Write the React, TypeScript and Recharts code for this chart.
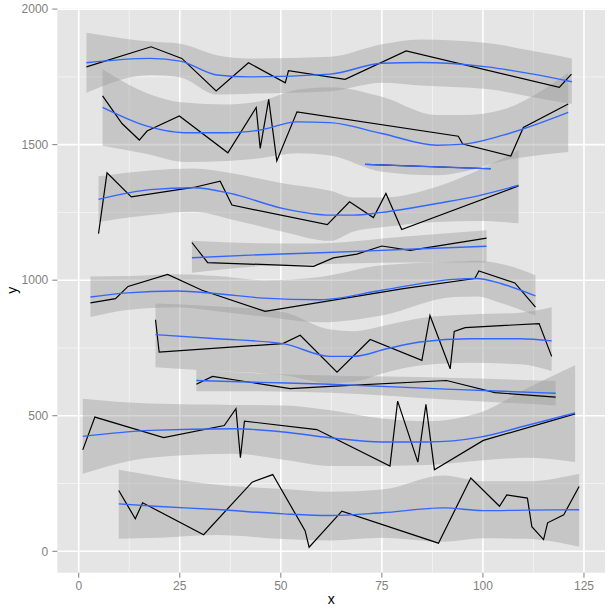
import React from 'react';
import { ComposedChart, Line, Area, XAxis, YAxis, CartesianGrid } from 'recharts';

// raw series: [x, y]
const rawA = [[1.9, 1787], [17.9, 1861], [25.5, 1818], [34, 1698], [42, 1802], [51.1, 1728], [51.9, 1773], [65.9, 1741], [81, 1846], [118.9, 1711], [121.9, 1760]];
const rawB = [[5.9, 1680], [10.7, 1578], [15, 1517], [16.9, 1550], [24.9, 1606], [36.9, 1470], [43.9, 1637], [44.9, 1486], [47, 1667], [49, 1440], [54, 1621], [93.9, 1531], [95, 1502], [106.9, 1458], [110, 1563], [121.1, 1650]];
const rawC = [[70.9, 1427], [101.9, 1411]];
const rawD = [[4.9, 1172], [7, 1396], [13, 1307], [28.4, 1342], [35, 1365], [37.9, 1277], [61.5, 1205], [67, 1289], [72.9, 1231], [76, 1320], [79.9, 1187], [108.8, 1348]];
const rawE = [[28, 1139], [31.9, 1065], [58.1, 1051], [63, 1082], [68.8, 1096], [75, 1126], [82, 1110], [100.9, 1155]];
const rawF = [[2.9, 916], [9.1, 932], [12.2, 977], [22, 1021], [30.5, 963], [46.1, 885], [80.3, 969], [98, 1006], [99, 1034], [107.9, 990], [113, 901]];
const rawG = [[19, 854], [19.9, 735], [50.5, 766], [54.8, 797], [63.9, 661], [72.1, 781], [84.9, 704], [86.9, 870], [91.9, 673], [92.9, 811], [95.6, 825], [113.9, 840], [117, 719]];
const rawH = [[29.1, 616], [33.1, 645], [52.3, 600], [62.2, 608], [91, 630], [103, 585], [118, 569]];
const rawI = [[1, 374], [4, 495], [21, 419], [36, 464], [38.9, 526], [40, 345], [41, 480], [58.9, 449], [77, 314], [78.9, 554], [83.9, 329], [85.9, 542], [88, 301], [100.1, 409], [122.8, 507]];
const rawJ = [[9.9, 224], [14, 120], [15.8, 179], [30.9, 61], [42.9, 255], [48, 283], [56, 76], [57, 15], [65.1, 148], [89, 30], [97, 270], [104.1, 166], [105.9, 208], [111, 196], [112.1, 91], [115, 43], [116, 105], [120, 135], [123.8, 239]];

// smoothed fits: [x, fit, lower, upper]
const fitA = [[1.9, 1802, 1691, 1913], [17.7, 1818, 1757, 1880], [25.1, 1808, 1748, 1872], [34.2, 1757, 1685, 1830], [42.4, 1750, 1688, 1818], [62.2, 1760, 1697, 1824], [75, 1800, 1728, 1870], [84.5, 1803, 1718, 1888], [101, 1787, 1705, 1875], [112.4, 1760, 1675, 1845], [122, 1732, 1650, 1818]];
const fitB = [[5.9, 1637, 1496, 1778], [16.9, 1568, 1465, 1690], [26, 1544, 1436, 1655], [36.7, 1544, 1440, 1648], [44.9, 1554, 1450, 1660], [54, 1584, 1468, 1702], [62.2, 1581, 1460, 1712], [75, 1541, 1400, 1677], [88.6, 1498, 1387, 1609], [95.2, 1502, 1400, 1609], [105, 1535, 1440, 1630], [121.1, 1619, 1473, 1765]];
const fitC = [[70.9, 1427, 1427, 1427], [101.9, 1411, 1411, 1411]];
const fitD = [[4.9, 1298, 1215, 1383], [17.7, 1334, 1240, 1405], [28.4, 1341, 1252, 1412], [37.5, 1320, 1225, 1395], [50.7, 1264, 1178, 1357], [62.2, 1240, 1145, 1330], [68, 1240, 1180, 1305], [75, 1250, 1195, 1305], [88.6, 1283, 1215, 1345], [99.3, 1313, 1218, 1408], [108.8, 1350, 1210, 1480]];
const fitE = [[28, 1083, 1027, 1145], [45, 1094, 1052, 1136], [58.1, 1100, 1058, 1135], [80, 1113, 1065, 1160], [100.9, 1125, 1065, 1184]];
const fitF = [[2.9, 938, 864, 1014], [12, 953, 890, 1015], [24.3, 960, 900, 1022], [34.2, 950, 885, 1015], [45.7, 934, 866, 1000], [59.7, 928, 845, 1012], [75, 963, 870, 1055], [92.7, 1003, 938, 1068], [98.5, 1006, 940, 1072], [104.6, 987, 915, 1060], [113, 942, 870, 1018]];
const fitG = [[19, 799, 679, 914], [34.2, 784, 665, 903], [50.5, 766, 650, 883], [62.2, 719, 620, 818], [68, 719, 625, 812], [76.2, 747, 660, 835], [84.4, 772, 685, 860], [96.8, 784, 695, 873], [109.2, 784, 690, 880], [117, 776, 665, 900]];
const fitH = [[29.1, 630, 590, 670], [45, 623, 590, 656], [62.2, 616, 585, 648], [91, 598, 560, 640], [118, 583, 538, 628]];
const fitI = [[1, 424, 286, 563], [17.7, 446, 345, 545], [38.3, 452, 360, 540], [50.7, 440, 338, 538], [62.2, 419, 315, 520], [75, 403, 315, 490], [86.1, 403, 318, 480], [99.3, 421, 335, 512], [110.8, 464, 345, 600], [122.8, 510, 329, 686]];
const fitJ = [[9.9, 175, 46, 301], [20, 165, 50, 275], [34.2, 154, 60, 245], [50.7, 138, 45, 230], [62.2, 132, 40, 220], [75, 142, 50, 228], [90.2, 160, 35, 280], [100.1, 150, 48, 258], [110.8, 152, 46, 258], [123.8, 153, 17, 286]];

const xTicks = [0, 25, 50, 75, 100, 125];
const xMinor = [12.5, 37.5, 62.5, 87.5, 112.5];
const yTicks = [0, 500, 1000, 1500, 2000];
const yMinor = [250, 750, 1250, 1750];

const groups = [
  { id: 'A', raw: rawA, fit: fitA },
  { id: 'B', raw: rawB, fit: fitB },
  { id: 'C', raw: rawC, fit: fitC },
  { id: 'D', raw: rawD, fit: fitD },
  { id: 'E', raw: rawE, fit: fitE },
  { id: 'F', raw: rawF, fit: fitF },
  { id: 'G', raw: rawG, fit: fitG },
  { id: 'H', raw: rawH, fit: fitH },
  { id: 'I', raw: rawI, fit: fitI },
  { id: 'J', raw: rawJ, fit: fitJ },
];

const toPts = (a: number[][]) => a.map(([x, y]) => ({ x, y }));
const toFit = (a: number[][]) => a.map(([x, y, lo, hi]) => ({ x, y, band: [lo, hi] }));

const font = '"Liberation Sans", Arial, sans-serif';
const tickStyle = { fill: '#7F7F7F', fontSize: 12, fontFamily: font };

export default function App() {
  return (
    <div style={{ position: 'absolute', left: 0, top: 0, width: 611, height: 612, background: '#fff' }}>
      <ComposedChart width={611} height={612} margin={{ top: 8, right: 6, bottom: 0, left: 0 }}>
        <CartesianGrid
          fill="#E5E5E5"
          stroke="#F2F2F2"
          strokeWidth={1}
          verticalValues={xMinor}
          horizontalValues={yMinor}
        />
        <CartesianGrid stroke="#FFFFFF" strokeWidth={1.6} verticalValues={xTicks} horizontalValues={yTicks} />
        <XAxis
          dataKey="x"
          type="number"
          domain={[-5.3, 130.2]}
          allowDataOverflow
          ticks={xTicks}
          axisLine={false}
          tickLine={{ stroke: '#7F7F7F' }}
          tickSize={5}
          tickMargin={3.5}
          tick={tickStyle}
          height={39.3}
          label={{
            content: (p: any) => (
              <text x={p.viewBox.x + p.viewBox.width / 2} y={p.viewBox.y + 31} textAnchor="middle" fontSize={14} fontFamily={font} fill="#000">
                x
              </text>
            ),
          }}
        />
        <YAxis
          type="number"
          domain={[-79, 2004]}
          allowDataOverflow
          ticks={yTicks}
          axisLine={false}
          tickLine={{ stroke: '#7F7F7F' }}
          tickSize={5}
          tickMargin={4}
          tick={tickStyle}
          width={57.3}
          label={{
            content: (p: any) => {
              const cy = p.viewBox.y + p.viewBox.height / 2;
              return (
                <text x={17} y={cy} transform={`rotate(-90 17 ${cy})`} textAnchor="middle" fontSize={14} fontFamily={font} fill="#000">
                  y
                </text>
              );
            },
          }}
        />
        {groups.map((g) => (
          <Line
            key={'raw' + g.id}
            data={toPts(g.raw)}
            dataKey="y"
            type="linear"
            stroke="#000000"
            strokeWidth={1.2}
            dot={false}
            activeDot={false}
            isAnimationActive={false}
          />
        ))}
        {groups.map((g) => (
          <Area
            key={'band' + g.id}
            data={toFit(g.fit)}
            dataKey="band"
            type="monotone"
            stroke="none"
            fill="#999999"
            fillOpacity={0.4}
            activeDot={false}
            isAnimationActive={false}
          />
        ))}
        {groups.map((g) => (
          <Line
            key={'fit' + g.id}
            data={toFit(g.fit)}
            dataKey="y"
            type="monotone"
            stroke="#3366FF"
            strokeWidth={1.4}
            dot={false}
            activeDot={false}
            isAnimationActive={false}
          />
        ))}
      </ComposedChart>
    </div>
  );
}
